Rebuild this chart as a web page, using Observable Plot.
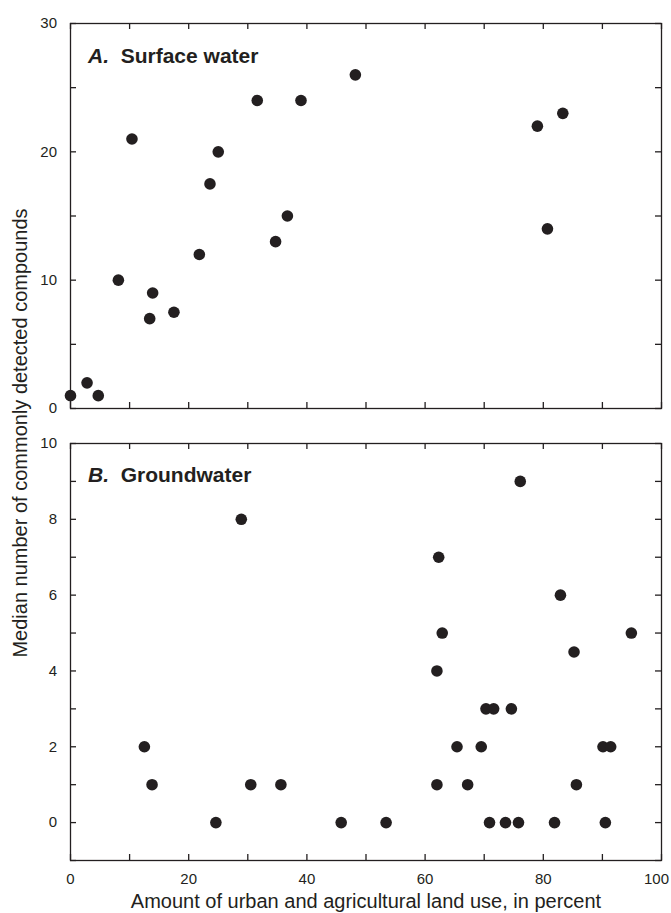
<!DOCTYPE html>
<html>
<head>
<meta charset="utf-8">
<script src="https://cdn.jsdelivr.net/npm/d3@7"></script>
<script src="https://cdn.jsdelivr.net/npm/@observablehq/plot@0.6"></script>
<style>
  html, body { margin: 0; padding: 0; background: #fff; }
  #chart { position: relative; width: 671px; height: 913px; overflow: hidden; color: #231f20;
           font-family: "Liberation Sans", Arial, sans-serif; }
  #chart svg { position: absolute; left: 0; }
  .txt { position: absolute; white-space: nowrap; }
  .title { font-size: 20px; line-height: 20px; }
  .panel { font-size: 21px; line-height: 21px; font-weight: bold; }
</style>
</head>
<body>
<div id="chart"></div>
<script>
// ---- data ----
const surfaceLand  = [0, 2.8, 4.7, 8.1, 10.4, 13.4, 13.9, 17.5, 21.8, 23.6, 25.0, 31.6, 34.7, 36.7, 39.0, 48.2, 79.0, 80.7, 83.3];
const surfaceCount = [1, 2, 1, 10, 21, 7, 9, 7.5, 12, 17.5, 20, 24, 13, 15, 24, 26, 22, 14, 23];

const groundLand  = [12.5, 13.8, 24.6, 28.9, 30.5, 35.6, 45.8, 53.4, 62.0, 62.0, 62.3, 62.9, 65.4, 67.2, 69.5, 70.3, 70.9, 71.6, 73.6, 74.6, 75.8, 76.1, 81.9, 82.9, 85.2, 85.6, 90.1, 90.5, 91.4, 94.9];
const groundCount = [2, 1, 0, 8, 1, 1, 0, 0, 4, 1, 7, 5, 2, 1, 2, 3, 0, 3, 0, 3, 0, 9, 0, 6, 4.5, 1, 2, 0, 2, 5];

const xTicks        = [0, 10, 20, 30, 40, 50, 60, 70, 80, 90, 100];
const xTickLabels   = [0, 20, 40, 60, 80];
const xLastLabel    = [100];
const surfaceYTicks = [0, 5, 10, 15, 20, 25, 30];
const surfaceYLabels = [0, 10, 20, 30];
const groundYTicks  = [-1, 0, 1, 2, 3, 4, 5, 6, 7, 8, 9, 10];
const groundYLabels = [0, 2, 4, 6, 8, 10];

const xTitle = "Amount of urban and agricultural land use, in percent";
const yTitle = "Median number of commonly detected compounds";

// ---- drawing ----
const ink = "#231f20";
const fontFamily = '"Liberation Sans", Arial, sans-serif';
const surface = surfaceLand.map((v, i) => ({land: v, count: surfaceCount[i]}));
const ground = groundLand.map((v, i) => ({land: v, count: groundCount[i]}));
const chart = document.getElementById("chart");

const W = 671, ML = 70, MR = 10;
const innerW = W - ML - MR;
const tick = 6, sw = 1.3;

// inward tick marks on all four sides of a panel
function frameTicks(yTicks, innerH) {
  return [
    Plot.tickX(xTicks, {x: d => d, stroke: ink, strokeWidth: sw, insetTop: innerH - tick}),
    Plot.tickX(xTicks, {x: d => d, stroke: ink, strokeWidth: sw, insetBottom: innerH - tick}),
    Plot.tickY(yTicks, {y: d => d, stroke: ink, strokeWidth: sw, insetRight: innerW - tick}),
    Plot.tickY(yTicks, {y: d => d, stroke: ink, strokeWidth: sw, insetLeft: innerW - tick})
  ];
}
function yLabelAxis(yLabels) {
  return Plot.axisY(yLabels, {anchor: "left", tickSize: 0, tickPadding: 13.5, fontSize: 15, label: null, fill: ink});
}

const topH = 420, topMT = 23, topMB = 12;
const topPlot = Plot.plot({
  width: W, height: topH,
  marginLeft: ML, marginRight: MR, marginTop: topMT, marginBottom: topMB,
  style: {fontFamily, fontSize: "15px", color: ink, background: "transparent", overflow: "visible"},
  x: {domain: [0, 100], axis: null},
  y: {domain: [0, 30], axis: null},
  marks: [
    ...frameTicks(surfaceYTicks, topH - topMT - topMB),
    yLabelAxis(surfaceYLabels),
    Plot.frame({stroke: ink, strokeWidth: sw}),
    Plot.dot(surface, {x: "land", y: "count", r: 5.8, fill: ink})
  ]
});
topPlot.style.top = "0px";
chart.appendChild(topPlot);

const botH = 493, botMT = 23, botMB = 53;
const bottomPlot = Plot.plot({
  width: W, height: botH,
  marginLeft: ML, marginRight: MR, marginTop: botMT, marginBottom: botMB,
  style: {fontFamily, fontSize: "15px", color: ink, background: "transparent", overflow: "visible"},
  x: {domain: [0, 100], axis: null},
  y: {domain: [-1, 10], axis: null},
  marks: [
    ...frameTicks(groundYTicks, botH - botMT - botMB),
    yLabelAxis(groundYLabels),
    Plot.axisX(xTickLabels, {anchor: "bottom", tickSize: 0, tickPadding: 13, fontSize: 15, label: null, fill: ink}),
    Plot.axisX(xLastLabel, {anchor: "bottom", tickSize: 0, tickPadding: 13, fontSize: 15, dx: -5, label: null, fill: ink}),
    Plot.frame({stroke: ink, strokeWidth: sw}),
    Plot.dot(ground, {x: "land", y: "count", r: 5.8, fill: ink})
  ]
});
bottomPlot.style.top = "420px";
chart.appendChild(bottomPlot);

function addText(html, cls, css) {
  const d = document.createElement("div");
  d.className = "txt " + cls;
  d.innerHTML = html;
  Object.assign(d.style, css);
  chart.appendChild(d);
  return d;
}
addText("<i>A.</i>&nbsp; Surface water", "panel", {left: "88px", top: "45px"});
addText("<i>B.</i>&nbsp; Groundwater", "panel", {left: "88px", top: "464px"});
addText(xTitle, "title", {left: "366px", top: "891px", transform: "translateX(-50%)"});
addText(yTitle, "title", {left: "20px", top: "433px", transform: "translate(-50%, -50%) rotate(-90deg)"});
</script>
</body>
</html>
